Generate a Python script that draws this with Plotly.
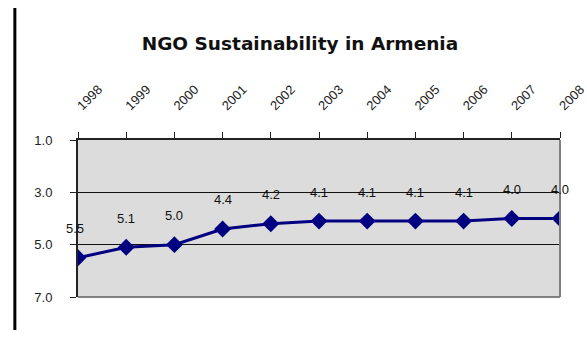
import plotly.graph_objects as go

# NGO sustainability index scores (1 = best, 7 = worst)
years = [1998, 1999, 2000, 2001, 2002, 2003, 2004, 2005, 2006, 2007, 2008]
scores = [5.5, 5.1, 5.0, 4.4, 4.2, 4.1, 4.1, 4.1, 4.1, 4.0, 4.0]
y_ticks = [1.0, 3.0, 5.0, 7.0]

FONT = "Liberation Sans, Arial, sans-serif"
NAVY = "#000080"

fig = go.Figure()
fig.add_trace(go.Scatter(
    x=years, y=scores,
    mode="lines+markers",
    line=dict(color=NAVY, width=3),
    marker=dict(symbol="diamond", size=13, color=NAVY),
    hoverinfo="skip",
    showlegend=False,
))

# value labels above each point
for yr, v in zip(years, scores):
    fig.add_annotation(
        x=yr, y=v, text=f"{v:.1f}", showarrow=False,
        yshift=29, xshift=-3 if yr == years[0] else 0,
        font=dict(family=FONT, size=13, color="#111"),
    )

# gray right/bottom frame of the plot area
fig.add_shape(type="line", xref="x domain", yref="y domain",
              x0=1, x1=1, y0=0, y1=1, line=dict(color="#808080", width=2))
fig.add_shape(type="line", xref="x domain", yref="y domain",
              x0=0, x1=1, y0=0, y1=0, line=dict(color="#808080", width=2))

# vertical rule on the left edge of the page
fig.add_shape(type="line", xref="paper", yref="paper",
              x0=-0.131, x1=-0.131, y0=-0.21, y1=1.84,
              line=dict(color="black", width=3))

fig.update_layout(
    width=587, height=341,
    margin=dict(l=78, r=27, t=140, b=44),
    paper_bgcolor="white",
    plot_bgcolor="#DCDCDC",
    title=dict(text="<b>NGO Sustainability in Armenia</b>",
               x=0.511, xanchor="center", y=0.873, yanchor="middle",
               font=dict(family="DejaVu Sans, sans-serif", size=18.5, color="#111")),
    font=dict(family=FONT, size=13, color="#222"),
    xaxis=dict(
        side="top", range=[years[0], years[-1]],
        tickvals=years, ticktext=[str(y) for y in years],
        tickangle=-45, ticks="outside", ticklen=6, tickcolor="#222",
        showline=True, linecolor="#222", linewidth=2,
        showgrid=False, zeroline=False, ticklabelstandoff=14,
        ticklabeloverflow="allow", automargin=False,
        tickfont=dict(family=FONT, size=13, color="#222"),
    ),
    yaxis=dict(
        range=[7, 1], tickvals=y_ticks,
        ticktext=[f"{t:.1f}" for t in y_ticks],
        ticks="outside", ticklen=6, tickcolor="#222",
        showline=True, linecolor="#222", linewidth=2,
        showgrid=True, gridcolor="#111", gridwidth=1.2,
        zeroline=False, ticklabelstandoff=15, automargin=False,
        tickfont=dict(family=FONT, size=13, color="#222"),
    ),
)

fig.write_html("out.html")
